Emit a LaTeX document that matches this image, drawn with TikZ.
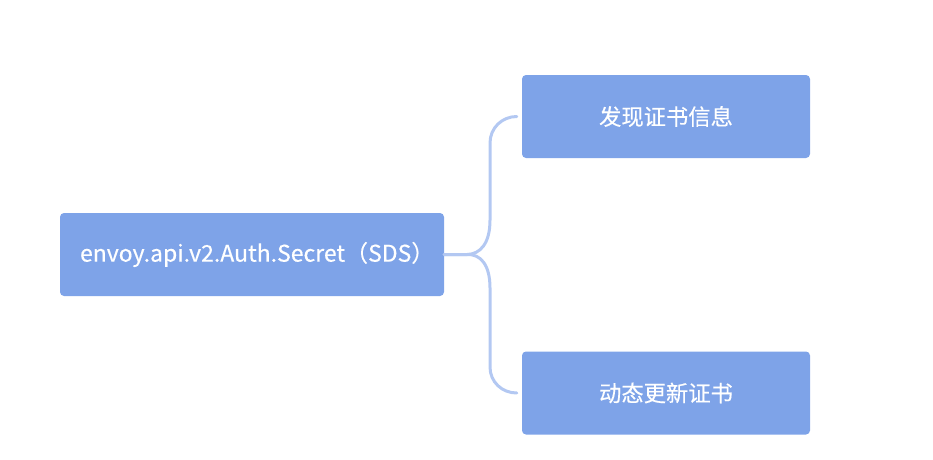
\documentclass[tikz,border=0pt]{standalone}
\usepackage{fontspec}
\newfontfamily\cjk[FakeBold=0.4]{Noto Sans CJK SC}
\usetikzlibrary{positioning}
\definecolor{boxblue}{HTML}{7EA3E8}
\definecolor{linkblue}{HTML}{B3C8F2}

\begin{document}
\begin{tikzpicture}[x=1pt,y=1pt,
    every node/.style={font=\cjk\fontsize{22.3}{26}\selectfont},
    topicbox/.style={fill=boxblue, text=white, rounded corners=4pt,
      inner sep=0pt, minimum height=83pt},
    branch/.style={draw=linkblue, line width=3pt, line cap=round}]

        \useasboundingbox (0,0) rectangle (933,459);

        % ==================================================
        % Root topic (left) and its two sub-topics (right)
        % ==================================================
        \node[topicbox, minimum width=384pt, font=\cjk\fontsize{23}{26}\selectfont]
          (sds) at (252,204.5)
          {envoy.api.v2.Auth.Secret（SDS）\kern-0.45em};
        \node[topicbox, minimum width=288pt] (discover) at (666,342.5)
          {发现证书信息};
        \node[topicbox, minimum width=288pt] (update) at (666,66)
          {动态更新证书};

        % -- Free ends of the branches, just before the sub-topics
        \coordinate (discoverin) at ([xshift=-5pt]discover.west);
        \coordinate (updatein) at ([xshift=-5pt]update.west);

        % ==================================================
        % Curly branches from the root to each sub-topic
        % ==================================================
        \draw[branch] (sds.east) -- ++(23,0)
          .. controls (480,205) and (490,215) .. (490,239) -- (490,316)
          .. controls (490,331) and (502,342.5) .. (discoverin);
        \draw[branch] (sds.east) -- ++(23,0)
          .. controls (480,205) and (490,195) .. (490,171) -- (490,92)
          .. controls (490,77) and (502,66) .. (updatein);

      \end{tikzpicture}
\end{document}
